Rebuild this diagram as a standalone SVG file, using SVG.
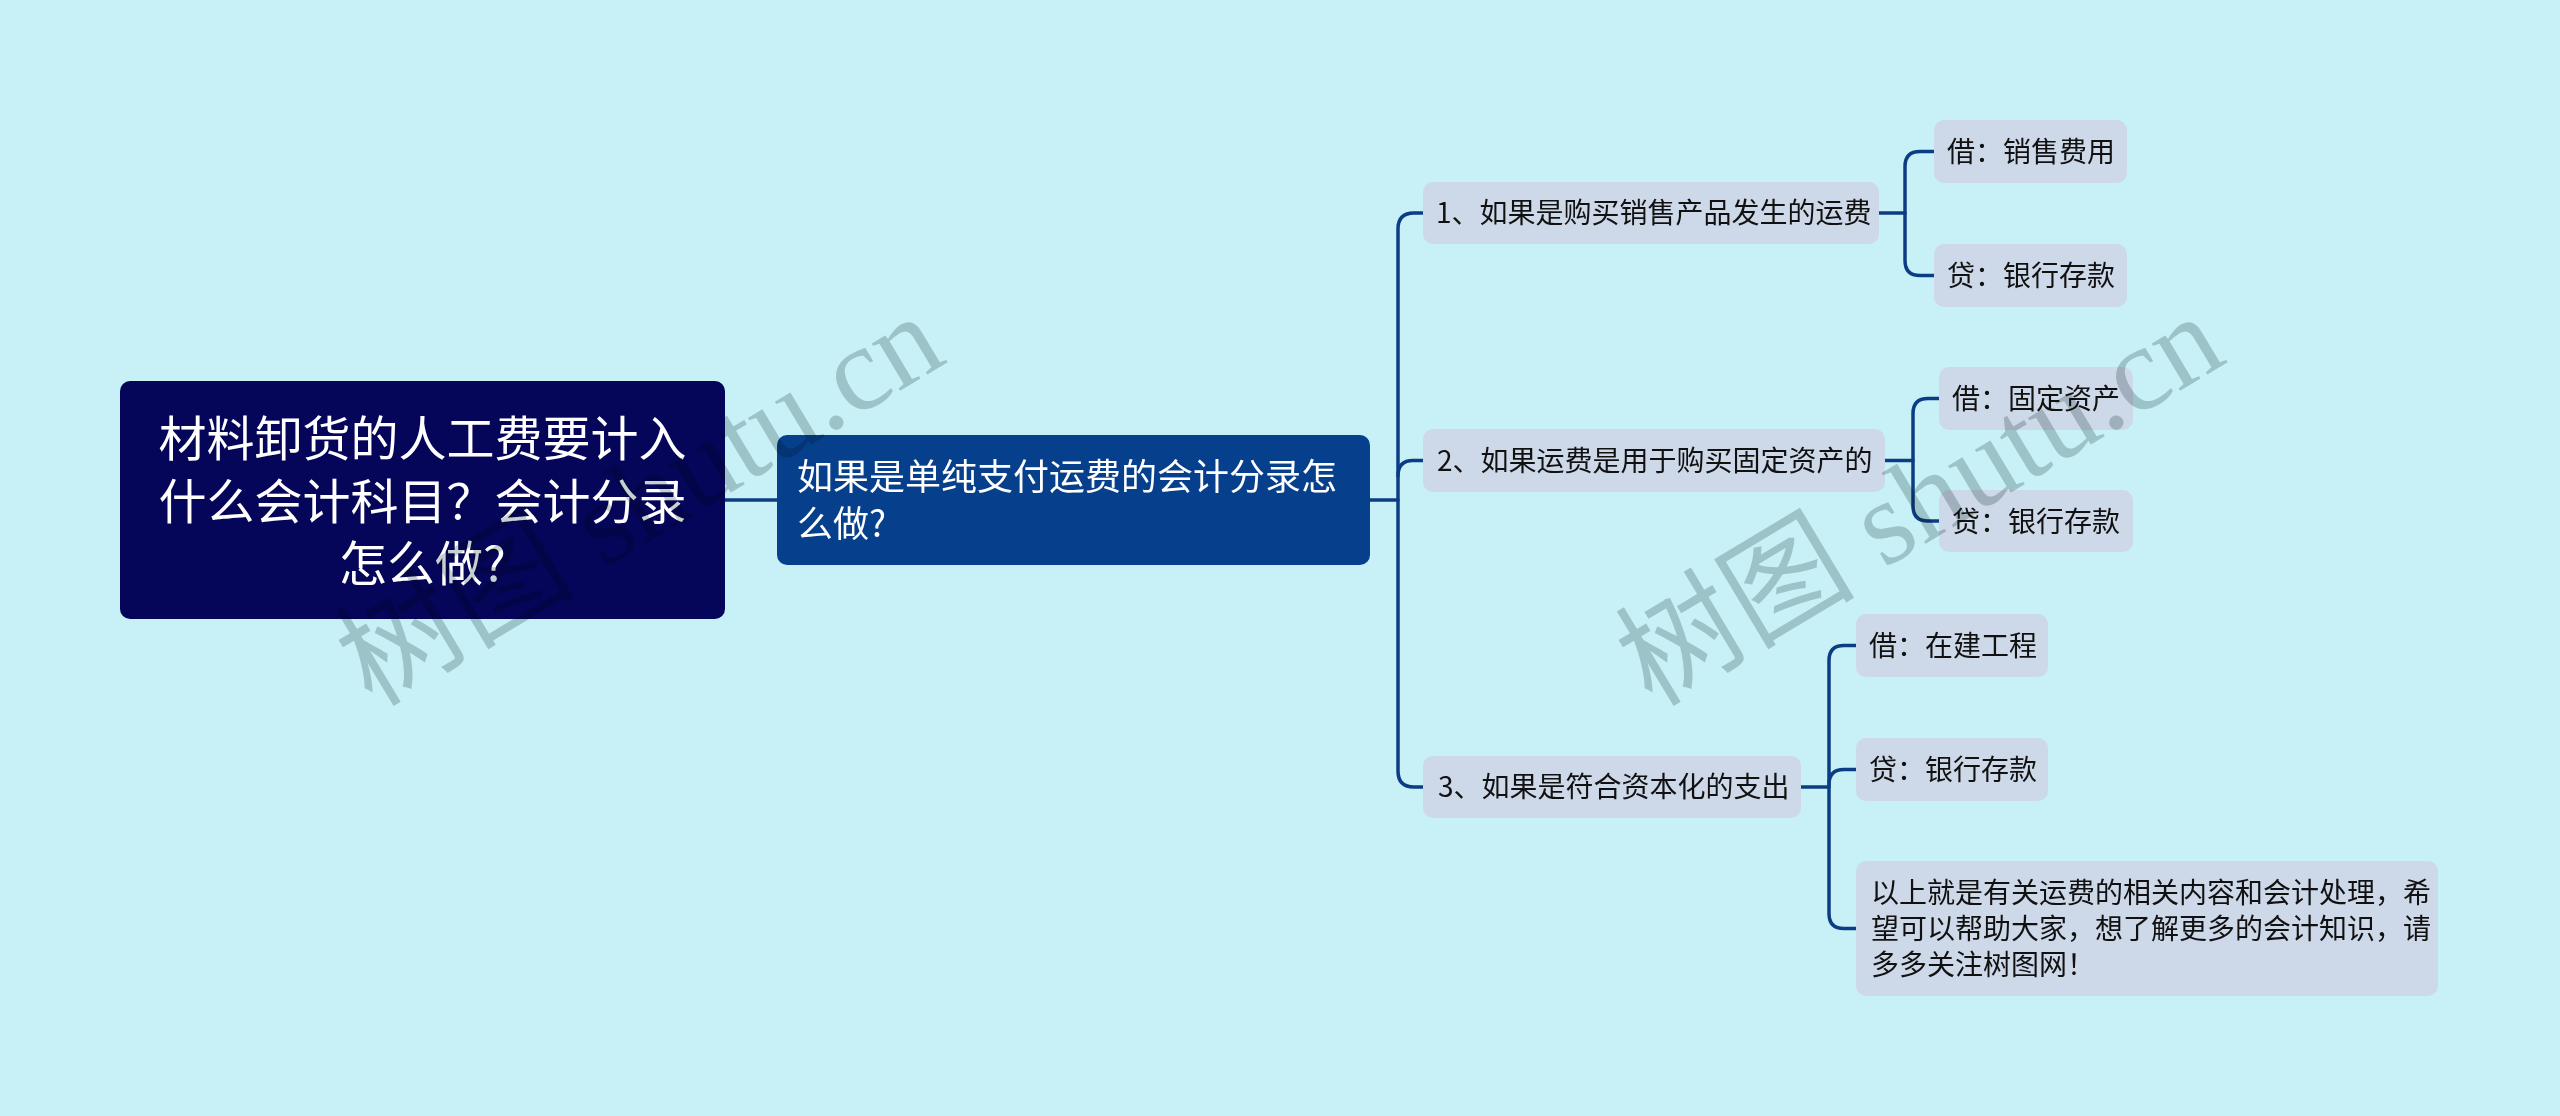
<svg xmlns="http://www.w3.org/2000/svg" width="2560" height="1116" viewBox="0 0 2560 1116">
<style>
.t{font-family:"Noto Sans CJK SC","Liberation Sans",sans-serif;}
.w{fill:#ffffff;}
.d{fill:#111111;font-size:28px;}
.sub{fill:#cdd8e8;}
.ln{fill:none;stroke:#0c3c84;stroke-width:3.5;stroke-linecap:round;}
.wm{font-family:"Liberation Serif","Noto Sans CJK SC",serif;font-size:120px;fill:#c6d0cf;mix-blend-mode:multiply;}
</style>
<rect x="0" y="0" width="2560" height="1116" fill="#c8f0f7"/>
<g id="connectors">
<path class="ln" d="M725,500 H777"/>
<path class="ln" d="M1370,500 H1398"/>
<path class="ln" d="M1423,213 H1414 Q1398,213 1398,229 V771 Q1398,787 1414,787 H1423"/>
<path class="ln" d="M1398,476 Q1398,460.5 1413,460.5 H1423"/>
<path class="ln" d="M1879,213 H1905"/>
<path class="ln" d="M1934,151.5 H1920 Q1905,151.5 1905,166.5 V260.5 Q1905,275.5 1920,275.5 H1934"/>
<path class="ln" d="M1885,460.5 H1913"/>
<path class="ln" d="M1939,398.5 H1928 Q1913,398.5 1913,413.5 V506 Q1913,521 1928,521 H1939"/>
<path class="ln" d="M1801,787 H1829"/>
<path class="ln" d="M1856,645.5 H1844 Q1829,645.5 1829,660.5 V913.5 Q1829,928.5 1844,928.5 H1856"/>
<path class="ln" d="M1829,784.5 Q1829,769.5 1844,769.5 H1856"/>
</g>
<g id="root">
<rect x="120" y="381" width="605" height="238" rx="10" fill="#05055a"/>
<text class="t w" font-size="48" text-anchor="middle"><tspan x="422.5" y="456">材料卸货的人工费要计入</tspan><tspan x="422.5" y="518.5">什么会计科目？会计分录</tspan><tspan x="422.5" y="581">怎么做?</tspan></text>
</g>
<g id="main">
<rect x="777" y="435" width="593" height="130" rx="10" fill="#063f8c"/>
<text class="t w" font-size="36"><tspan x="797" y="490">如果是单纯支付运费的会计分录怎</tspan><tspan x="797" y="537">么做?</tspan></text>
</g>
<g id="b1">
<rect class="sub" x="1423" y="182" width="456" height="62" rx="10"/>
<text class="t d" x="1436" y="223">1、如果是购买销售产品发生的运费</text>
</g>
<g id="b2">
<rect class="sub" x="1423" y="429" width="462" height="63" rx="10"/>
<text class="t d" x="1437" y="471">2、如果运费是用于购买固定资产的</text>
</g>
<g id="b3">
<rect class="sub" x="1423" y="756" width="378" height="62" rx="10"/>
<text class="t d" x="1438" y="797">3、如果是符合资本化的支出</text>
</g>
<g id="c1a">
<rect class="sub" x="1934" y="120" width="193" height="63" rx="10"/>
<text class="t d" x="1947" y="162">借：销售费用</text>
</g>
<g id="c1b">
<rect class="sub" x="1934" y="244" width="193" height="63" rx="10"/>
<text class="t d" x="1947" y="286">贷：银行存款</text>
</g>
<g id="c2a">
<rect class="sub" x="1939" y="367" width="194" height="63" rx="10"/>
<text class="t d" x="1952" y="409">借：固定资产</text>
</g>
<g id="c2b">
<rect class="sub" x="1939" y="490" width="194" height="62" rx="10"/>
<text class="t d" x="1952" y="532">贷：银行存款</text>
</g>
<g id="c3a">
<rect class="sub" x="1856" y="614" width="192" height="63" rx="10"/>
<text class="t d" x="1869" y="656">借：在建工程</text>
</g>
<g id="c3b">
<rect class="sub" x="1856" y="738" width="192" height="63" rx="10"/>
<text class="t d" x="1869" y="780">贷：银行存款</text>
</g>
<g id="c3c">
<rect class="sub" x="1856" y="861" width="582" height="135" rx="10"/>
<text class="t d"><tspan x="1871" y="903">以上就是有关运费的相关内容和会计处理，希</tspan><tspan x="1871" y="939">望可以帮助大家，想了解更多的会计知识，请</tspan><tspan x="1871" y="975">多多关注树图网！</tspan></text>
</g>
<g id="watermarks">
<text class="wm" x="372" y="708" transform="rotate(-31 372 708)">树图 shutu.cn</text>
<text class="wm" x="1652" y="708" transform="rotate(-31 1652 708)">树图 shutu.cn</text>
</g>
</svg>
